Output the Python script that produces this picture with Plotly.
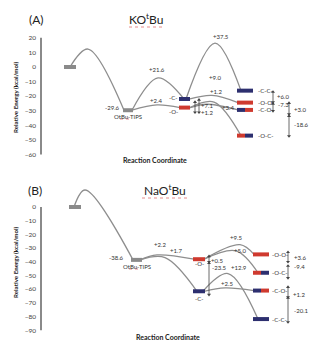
import plotly.graph_objects as go

W, H = 318, 346
GRAY, BLUE, RED = "#8a8a8a", "#2d2f6f", "#cf3a2f"
CURVE = "#8e8e8e"
TXT = "#333333"
FONT = "Lato"
COLMAP = {"g": GRAY, "b": BLUE, "r": RED}

# ---------------- Panel A : KOtBu ----------------
a_names = ["start", "OtBu-TIPS", "-C-", "-O-", "-C-C-", "-O-O-", "-C-O-", "-O-C-"]
a_energy = [0.0, -29.6, -21.9, -27.8, -16.2, -24.4, -29.4, -47.0]
a_fill = [["g"], ["g"], ["b"], ["r"], ["b"], ["r"], ["b", "r"], ["r", "b"]]
a_path_from = [0, 1, 1, 2, 2, 3, 3]
a_path_to = [1, 2, 3, 4, 5, 6, 7]
a_path_top = [12.3, -7.5, -26.0, 16.4, -19.5, -25.5, -24.0]
a_ticks = [20, 10, 0, -10, -20, -30, -40, -50, -60]
a_val_text = ["+21.6", "+2.4", "-29.6", "OtBu-TIPS", "-C-", "-O-", "+37.5", "+9.0", "+1.2",
              "+7.1", "+1.2", "+3.4", "+6.0", "-7.3", "+3.0", "-18.6"]
a_arrow_top = [-24.0, -22.5, -17.1, -25.3, -24.7, -33.6]
a_arrow_bot = [-31.0, -31.0, -24.0, -30.1, -32.2, -47.3]

# ---------------- Panel B : NaOtBu ----------------
b_names = ["start", "OtBu-TIPS", "-O-", "-C-", "-O-O-", "-O-C-", "-C-O-", "-C-C-"]
b_energy = [0.0, -38.6, -38.1, -61.5, -34.6, -48.0, -61.0, -81.8]
b_fill = [["g"], ["g"], ["r"], ["b"], ["r"], ["r", "b"], ["b", "r"], ["b"]]
b_path_from = [0, 1, 1, 2, 2, 3, 3]
b_path_to = [1, 2, 3, 4, 5, 6, 7]
b_path_top = [12.4, -35.0, -36.9, -27.5, -32.0, -59.0, -48.6]
b_ticks = [0, -10, -20, -30, -40, -50, -60, -70, -80, -90]
b_val_text = ["-38.6", "OtBu-TIPS", "+2.2", "+1.7", "-O-", "-C-", "+9.5", "+5.0", "+0.5",
              "-23.5", "+12.9", "+2.5", "+3.6", "-9.4", "+1.2", "-20.1"]
b_arrow_top = [-36.0, -41.0, -33.0, -43.0, -58.4, -66.4]
b_arrow_bot = [-40.0, -64.0, -40.0, -51.8, -65.7, -84.0]

# ---------------- layout positions (reaction coordinate, styling) ----------------
a_pos = [70, 128, 184.5, 184.5, 245, 245, 245, 245]
a_len = [12, 10, 11, 11, 16, 16, 16, 16]
a_top_pos = [88, 158, 157, 215, 212, 207, 214]
a_x0 = [70, 132, 132, 186, 190, 190, 190]
a_x1 = [124, 184, 180, 241, 238, 238, 241]
a_val_pos = [(157, -1.4), (156, -22.6), (112, -27.4), (128, -34.2), (173, -21.2), (173, -30.8),
             (221, 21.2), (215, -7.5), (216, -17.1), (207, -26.7), (207, -31.5), (228, -27.4),
             (283, -20.5), (283, -26.0), (300, -28.8), (301, -39.7)]
a_arrow_x = [195, 199, 273, 273, 289, 289]

b_pos = [75, 136.5, 199, 199, 261, 261, 261, 261]
b_len = [12, 11, 12, 12, 16, 16, 16, 16]
b_top_pos = [85, 157, 165, 240, 236, 225, 228]
b_x0 = [74, 140, 140, 204, 204, 204, 203]
b_x1 = [133, 194, 197, 254, 258, 254, 258]
b_val_pos = [(116, -37.2), (137, -43.1), (160, -27.7), (176, -32.1), (199, -41.2), (199, -66.6),
             (236, -22.6), (240, -31.4), (217, -38.7), (219, -44.5), (239, -44.5), (227, -56.2),
             (300, -37.2), (299, -43.1), (299, -63.5), (301, -75.9)]
b_arrow_x = [209, 209, 288, 288, 288, 288]

# pixel calibration of each energy axis: (pixel of E=0, px per kcal, domain px top, bottom)
A_CAL = (67, 1.46, 25, 165)
B_CAL = (207, 1.37, 180, 340)


def axis_setup(cal):
    y0, s, ptop, pbot = cal
    rng = [-(pbot - y0) / s, (y0 - ptop) / s]
    dom = [1 - pbot / H, 1 - ptop / H]
    return rng, dom


fig = go.Figure()
annotations = []
shapes = []


def build_panel(xa, ya, names, energy, fill, pos, length, pfrom, pto, ptop, ptop_pos, x0s, x1s,
                vtext, vpos, arr_x, arr_top, arr_bot, ticks, label_x):
    # curves
    for f, t, top, tp, x0, x1 in zip(pfrom, pto, ptop, ptop_pos, x0s, x1s):
        fig.add_trace(go.Scatter(x=[x0, tp, x1], y=[energy[f], top, energy[t]], mode="lines",
                                 line=dict(color=CURVE, width=1.3, shape="spline", smoothing=1.0),
                                 xaxis=xa, yaxis=ya, hoverinfo="skip", showlegend=False))
    # level bars
    for i, (e, p, L, cols) in enumerate(zip(energy, pos, length, fill)):
        n = len(cols)
        seg = L / n
        for k, c in enumerate(cols):
            xs = [p - L / 2 + k * seg, p - L / 2 + (k + 1) * seg]
            fig.add_trace(go.Scatter(x=xs, y=[e, e], mode="lines",
                                     line=dict(color=COLMAP[c], width=4),
                                     xaxis=xa, yaxis=ya, hoverinfo="skip", showlegend=False))
        if i >= 4:
            annotations.append(dict(x=label_x, y=e, xref=xa, yref=ya, text=names[i], showarrow=False,
                                    xanchor="left", font=dict(size=6, color=TXT, family=FONT)))
    # values
    for txt, (vx, vy) in zip(vtext, vpos):
        annotations.append(dict(x=vx, y=vy, xref=xa, yref=ya, text=txt, showarrow=False,
                                font=dict(size=6, color=TXT, family=FONT)))
    # double arrows (line with arrowhead markers at both ends)
    for ax_, t_, b_ in zip(arr_x, arr_top, arr_bot):
        fig.add_trace(go.Scatter(x=[ax_, ax_], y=[t_, b_], mode="lines+markers",
                                 line=dict(color="#444", width=0.8),
                                 marker=dict(symbol=["triangle-up", "triangle-down"], size=3.5,
                                             color="#444", line=dict(width=0)),
                                 xaxis=xa, yaxis=ya, hoverinfo="skip", showlegend=False))
    # axis line
    shapes.append(dict(type="line", xref=xa, yref=ya, x0=41, x1=41, y0=min(ticks), y1=max(ticks),
                       line=dict(color="#8a8a8a", width=2)))


build_panel("x", "y", a_names, a_energy, a_fill, a_pos, a_len, a_path_from, a_path_to, a_path_top,
            a_top_pos, a_x0, a_x1, a_val_text, a_val_pos, a_arrow_x, a_arrow_top, a_arrow_bot,
            a_ticks, 256)
build_panel("x2", "y2", b_names, b_energy, b_fill, b_pos, b_len, b_path_from, b_path_to, b_path_top,
            b_top_pos, b_x0, b_x1, b_val_text, b_val_pos, b_arrow_x, b_arrow_top, b_arrow_bot,
            b_ticks, 270)

a_rng, a_dom = axis_setup(A_CAL)
b_rng, b_dom = axis_setup(B_CAL)


def P(px, py):
    return px / W, 1 - py / H


def paper_text(px, py, text, size, bold=False, angle=0):
    x, y = P(px, py)
    if bold:
        text = "<b>" + text + "</b>"
    annotations.append(dict(x=x, y=y, xref="paper", yref="paper", text=text, showarrow=False,
                            xanchor="center", yanchor="middle",
                            textangle=angle, font=dict(size=size, color="#222", family=FONT)))


def squiggle(x0, x1, y):
    a, b = P(x0, y)
    c, _ = P(x1, y)
    shapes.append(dict(type="line", xref="paper", yref="paper", x0=a, x1=c, y0=b, y1=b,
                       line=dict(color="#e07070", width=0.8, dash="dot")))


paper_text(36, 20, "(A)", 12)
paper_text(146, 19, "KO<sup>t</sup>Bu", 12)
paper_text(35, 190, "(B)", 12)
paper_text(165, 190, "NaO<sup>t</sup>Bu", 12)
paper_text(155, 160, "Reaction Coordinate", 7, bold=True)
paper_text(168, 337, "Reaction Coordinate", 7, bold=True)
paper_text(15, 97, "Relative Energy (kcal/mol)", 6.2, bold=True, angle=-90)
paper_text(15, 262, "Relative Energy (kcal/mol)", 6.2, bold=True, angle=-90)
squiggle(129, 163, 27)
squiggle(142, 188, 198)
squiggle(120, 130, 119)
squiggle(129, 139, 269)

yax_common = dict(showgrid=False, zeroline=False, showline=False, ticks="",
                  tickfont=dict(size=6.5, color="#444", family=FONT), anchor="free",
                  position=41 / W, ticklabelstandoff=5)
xax_common = dict(range=[0, W], domain=[0, 1], visible=False, showgrid=False, zeroline=False)

fig.update_layout(
    width=W, height=H, margin=dict(l=0, r=0, t=0, b=0),
    plot_bgcolor="white", paper_bgcolor="white",
    xaxis=dict(**xax_common, anchor="y"),
    xaxis2=dict(**xax_common, anchor="y2"),
    yaxis=dict(**yax_common, range=a_rng, domain=a_dom, tickvals=a_ticks),
    yaxis2=dict(**yax_common, range=b_rng, domain=b_dom, tickvals=b_ticks),
    annotations=annotations, shapes=shapes, showlegend=False,
)

fig.write_html("out.html", config={"displayModeBar": False},
               post_script="document.body.style.margin='0';document.body.style.overflow='hidden';")
